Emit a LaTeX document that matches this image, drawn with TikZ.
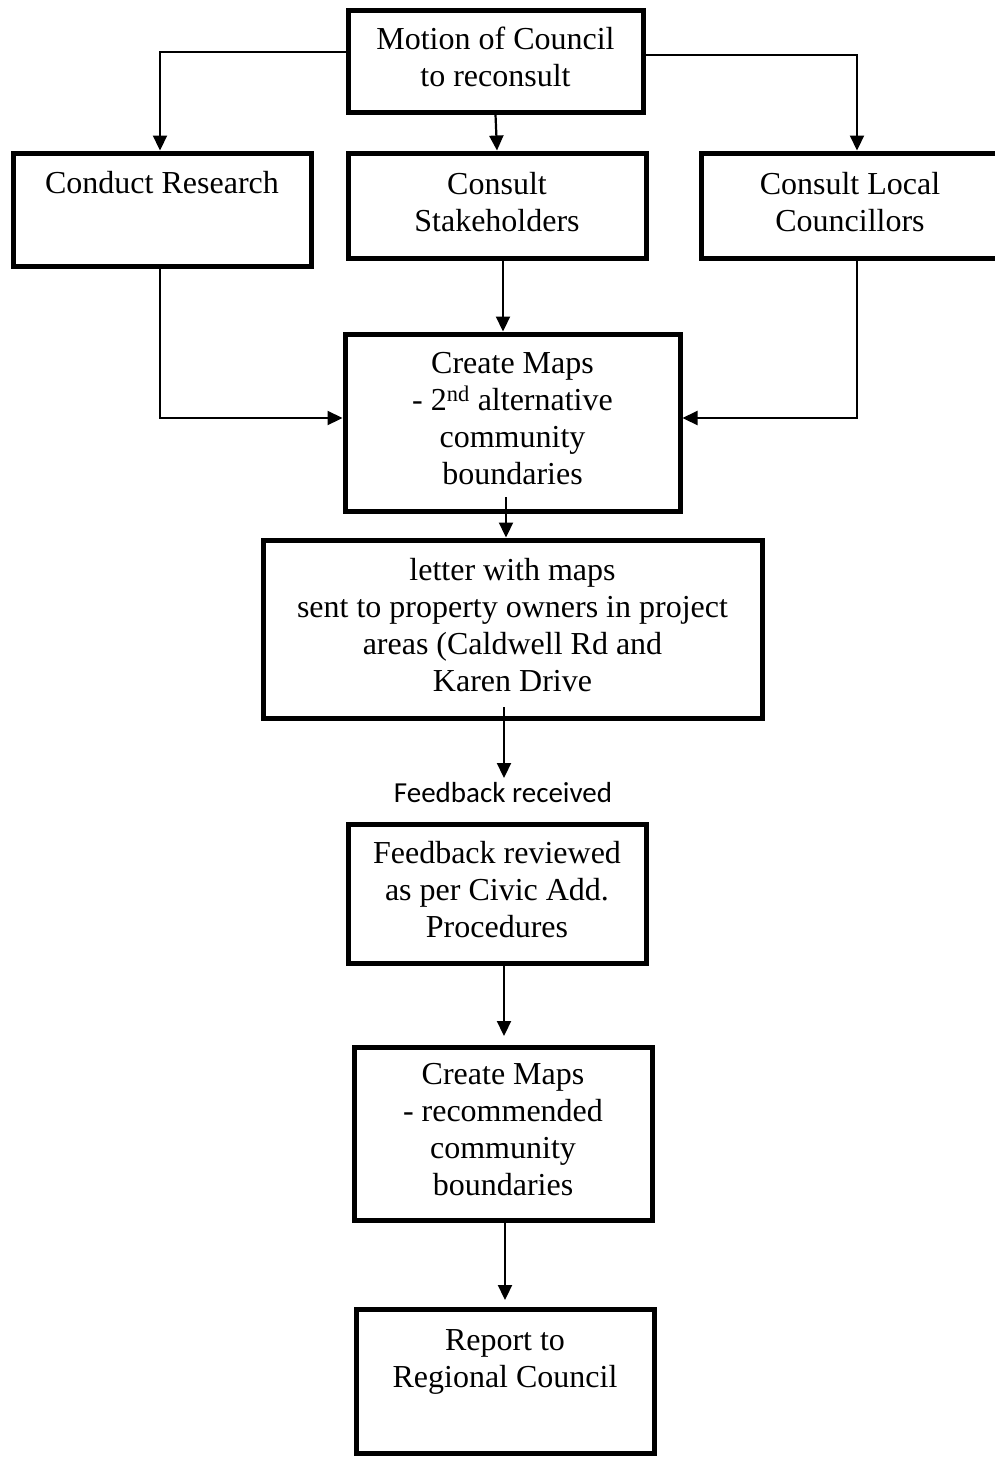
\documentclass[tikz,border=0pt]{standalone}
\usepackage{fontspec}
\setmainfont{Liberation Serif}
\newfontfamily\calib{Carlito}
\usetikzlibrary{arrows.meta}
\begin{document}
\begin{tikzpicture}[x=1pt,y=-1pt,
  box/.style={draw,line width=5pt,align=center,inner sep=0pt,font=\fontsize{32}{37}\selectfont},
  boxs/.style={box,execute at begin node={\rule{0pt}{24pt}},execute at end node={\rule[-8pt]{0pt}{8pt}}},
  arr/.style={line width=2.2pt,-{Triangle[length=15pt,width=14pt]}}]
\fill[white] (0,0) rectangle (994,1457);
\useasboundingbox (0,0) rectangle (994,1457);
\node[boxs,minimum width=295pt,minimum height=102pt] (mot) at (495.5,61) {Motion of Council\\to reconsult};
\node[box,minimum width=298pt,minimum height=113pt] (res) at (162,209.5) {\raisebox{16pt}[0pt][0pt]{Conduct Research}};
\node[boxs,minimum width=298pt,minimum height=105pt] (stk) at (497,205.5) {Consult\\Stakeholders};
\node[boxs,minimum width=298pt,minimum height=105pt] (loc) at (850,205.5) {Consult Local\\Councillors};
\node[boxs,minimum width=335pt,minimum height=177pt] (map2) at (512.5,422.5) {Create Maps\\- 2\textsuperscript{nd} alternative\\community\\boundaries};
\node[boxs,minimum width=499pt,minimum height=178pt] (let) at (512.5,629) {letter with maps\\sent to property owners in project\\areas (Caldwell Rd and\\Karen Drive};
\node[font=\calib\fontsize{29}{35}\selectfont,inner sep=0pt] (fbr) at (503,793) {Feedback received};
\node[boxs,minimum width=298pt,minimum height=139pt] (rev) at (497,893.5) {Feedback reviewed\\as per Civic Add.\\Procedures};
\node[boxs,minimum width=298pt,minimum height=173pt] (rec) at (503,1133.5) {Create Maps\\- recommended\\community\\boundaries};
\node[box,minimum width=298pt,minimum height=144pt] (rep) at (505,1381) {\raisebox{13pt}[0pt][0pt]{\begin{tabular}{@{}c@{}}Report to\\Regional Council\end{tabular}}};
\coordinate (c1) at (160,52);
\coordinate (c2) at (857,55);
\coordinate (c3) at (160,418);
\coordinate (c4) at (503,300);
\coordinate (c5) at (857,418);
\coordinate (c6) at (506,497);
\coordinate (c7) at (504,707);
\coordinate (c8) at (504,778);
\coordinate (c9) at (504,1036);
\coordinate (c10) at (505,1300);
\draw[arr] (mot.west |- c1) -- (c1) -- (c1 |- res.north);
\draw[arr] (mot.south) -- (stk.north);
\draw[arr] (mot.east |- c2) -- (c2) -- (c2 |- loc.north);
\draw[arr] (c3 |- res.south) -- (c3) -- (c3 -| map2.west);
\draw[arr] (c4 |- stk.south) -- (c4 |- map2.north);
\draw[arr] (c5 |- loc.south) -- (c5) -- (c5 -| map2.east);
\draw[arr] (c6) -- (c6 |- let.north);
\draw[arr] (c7) -- (c8);
\draw[arr] (c9 |- rev.south) -- (c9);
\draw[arr] (c10 |- rec.south) -- (c10);
\end{tikzpicture}
\end{document}
